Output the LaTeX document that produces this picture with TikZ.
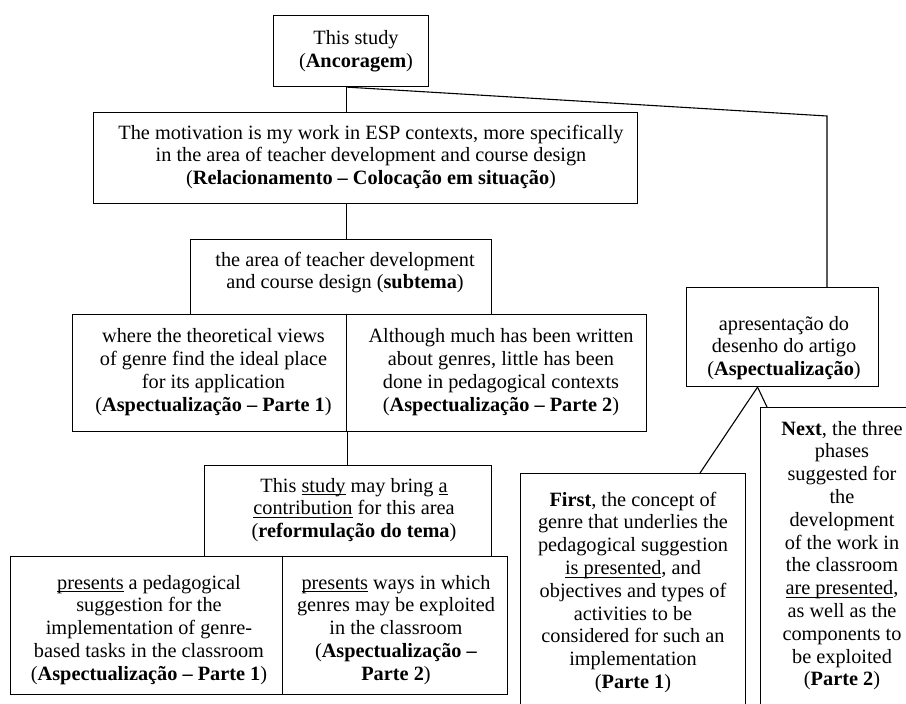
\documentclass[tikz,border=0pt]{standalone}
\usepackage{fontspec}
\setmainfont{Liberation Serif}
\usetikzlibrary{calc}
\newcommand{\boxfont}{\fontsize{20.3}{22.8}\selectfont}
\newcommand{\ulw}[1]{\setbox0\hbox{#1}\rlap{\rule[-3pt]{\wd0}{1pt}}\box0\relax}
\tikzset{
  box/.style={draw, line width=1.1pt, inner sep=0pt, anchor=north west},
  txt/.style={align=center, inner sep=0pt, anchor=north, font=\boxfont},
  link/.style={line width=1.1pt}
}
\begin{document}
\begin{tikzpicture}[x=1pt, y=-1pt]
\useasboundingbox (0,0) rectangle (906,704);
\clip (0,0) rectangle (906,704);
% boxes
\node[box, minimum width=155pt, minimum height=71pt] (top) at (273,15) {};
\node[box, minimum width=544pt, minimum height=91pt] (motiv) at (93,112) {};
\node[box, minimum width=301pt, minimum height=75pt] (sub) at (190,239) {};
\node[box, minimum width=274pt, minimum height=117pt] (p1) at (72,314) {};
\node[box, minimum width=300pt, minimum height=117pt] (p2) at (346,314) {};
\node[box, minimum width=287pt, minimum height=91pt] (study) at (204,465) {};
\node[box, minimum width=272pt, minimum height=138pt] (b1) at (10,556) {};
\node[box, minimum width=225pt, minimum height=138pt] (b2) at (282,556) {};
\node[box, minimum width=192pt, minimum height=99pt] (apres) at (686,287) {};
\node[box, minimum width=225pt, minimum height=260pt] (first) at (520,473) {};
\node[box, minimum width=165pt, minimum height=330pt] (next) at (760,407) {};
% texts (first baseline = y + 15.96)
\node[txt] (ttop) at (356,28.5) {\strut This study\\(\textbf{Ancoragem})};
\node[txt] (tmotiv) at (371,123) {\strut The motivation is my work in ESP contexts, more specifically\\in the area of teacher development and course design\\(\textbf{Relacionamento – Colocação em situação})};
\node[txt] (tsub) at (345,250) {\strut the area of teacher development\\and course design (\textbf{subtema})};
\node[txt] (tp1) at (213.5,326.5) {\strut where the theoretical views\\of genre find the ideal place\\for its application\\(\textbf{Aspectualização – Parte 1})};
\node[txt] (tp2) at (501,326.5) {\strut Although much has been written\\about genres, little has been\\done in pedagogical contexts\\(\textbf{Aspectualização – Parte 2})};
\node[txt] (tstudy) at (354,476) {\strut This \ulw{study} may bring \ulw{a}\\\ulw{contribution} for this area\\(\textbf{reformulação do tema})};
\node[txt] (tb1) at (149,573) {\strut\ulw{presents} a pedagogical\\suggestion for the\\implementation of genre-\\based tasks in the classroom\\(\textbf{Aspectualização – Parte 1})};
\node[txt] (tb2) at (396,573) {\strut\ulw{presents} ways in which\\genres may be exploited\\in the classroom\\(\textbf{Aspectualização –}\\\textbf{Parte 2})};
\node[txt] (tapres) at (784,314) {\strut apresentação do\\desenho do artigo\\(\textbf{Aspectualização})};
\node[txt] (tfirst) at (633,490) {\strut\textbf{First}, the concept of\\genre that underlies the\\pedagogical suggestion\\\ulw{is presented}, and\\objectives and types of\\activities to be\\considered for such an\\implementation\\(\textbf{Parte 1})};
\node[txt] (tnext) at (842,419) {\strut\textbf{Next}, the three\\phases\\suggested for\\the\\development\\of the work in\\the classroom\\\ulw{are presented},\\as well as the\\components to\\be exploited\\(\textbf{Parte 2})};
% connector helpers
\coordinate (spine) at (346.5,0);
\coordinate (corner) at (827,116);
\coordinate (apex) at ($(apres.south)+(-25,0)$);
% connectors
\draw[link] (top.south -| spine) -- (motiv.north -| spine);
\draw[link] (motiv.south -| spine) -- (sub.north -| spine);
\draw[link] (p1.south east) -- (study.north -| p1.south east);
\draw[link, line join=miter] (top.south -| spine) -- (corner) -- (apres.north -| corner);
\draw[link] (apex) -- ($(first.north west)+(180,0)$);
\draw[link] (apex) -- ($(next.north west)+(7,0)$);
\end{tikzpicture}
\end{document}
